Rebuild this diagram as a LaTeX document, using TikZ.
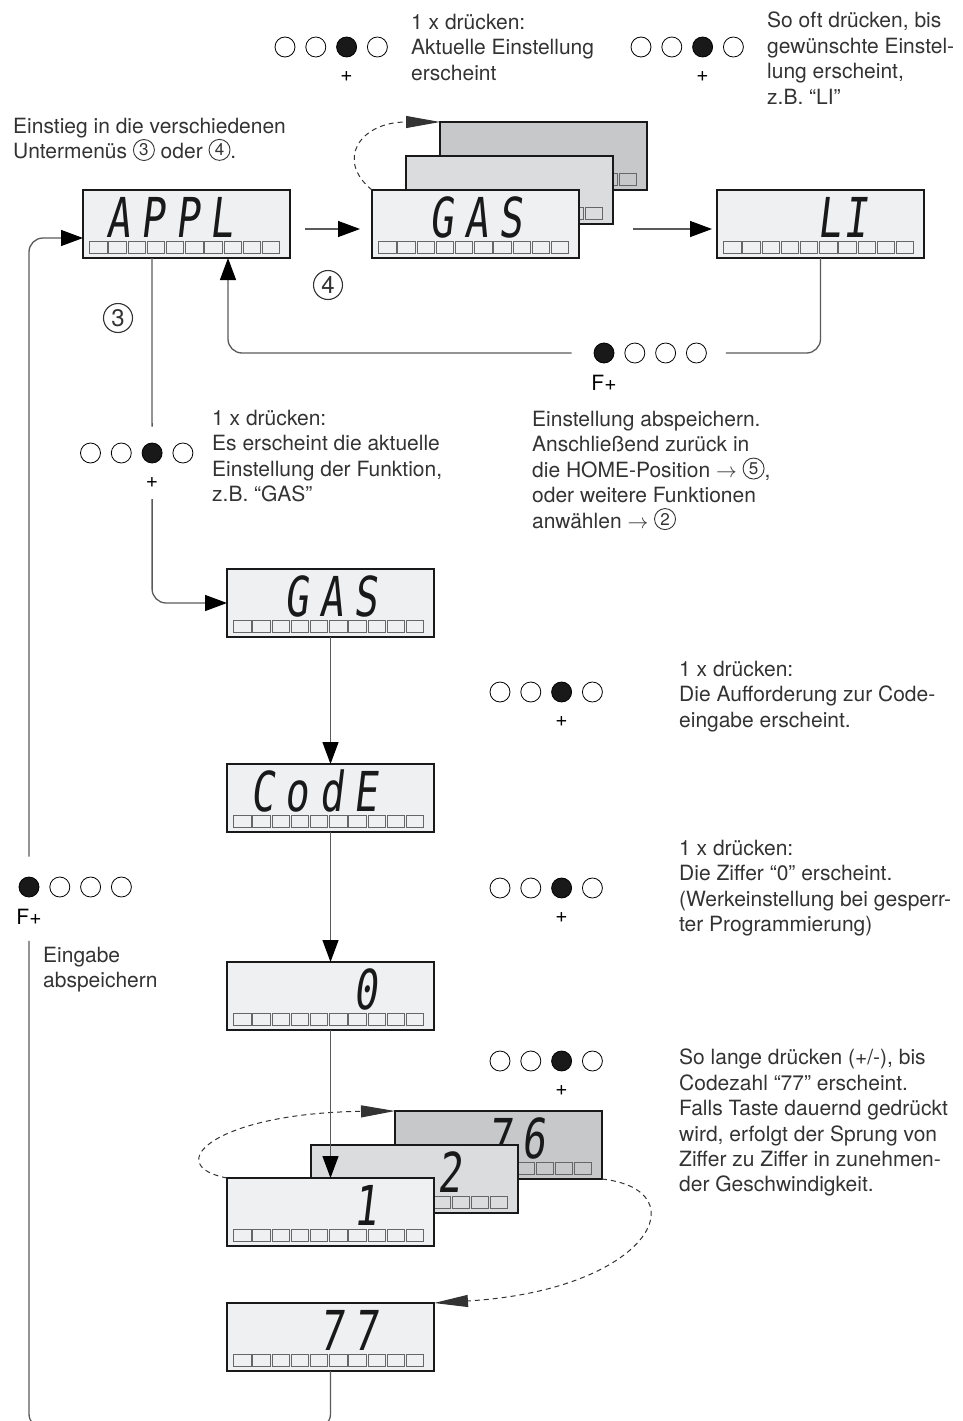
\documentclass[tikz,border=0pt]{standalone}
\usepackage{fontspec}
\setmainfont{TeX Gyre Heros}
\newfontfamily\segfont[FakeSlant=0.12,FakeStretch=0.72]{DejaVu Sans Mono}
\usetikzlibrary{arrows.meta,calc}

\definecolor{lcdfront}{HTML}{EFF0F1}
\definecolor{lcdmid}{HTML}{DBDCDE}
\definecolor{lcdback}{HTML}{C7C8CA}
\definecolor{linegray}{HTML}{5A5A5A}
\definecolor{textgray}{HTML}{333333}

\newcommand{\segk}{\kern10.7pt}
% Ziffer im Kreis, im Text
\newcommand{\ringnum}[1]{\tikz[baseline={([yshift=-3pt]r.base)}]\node[draw=textgray,circle,inner sep=0pt,minimum size=21pt,line width=0.9pt,text=textgray,font=\fontsize{17}{17}\selectfont] (r) {#1};}

% pantalla LCD: nombre, esquina, relleno, texto
\newcommand{\lcd}[4]{%
  \node[lcdbox,fill=#3] (#1) at (#2) {};
  \foreach \i in {0,...,9}
    \draw[lcdkey,fill=#3] ($(#1.south west)+(6.5+19.2*\i,-5)$) rectangle ++(17.5,-12);
  \node[lcdtext] (#1-t) at ($(#1.north west)+(151,47)$) {#4};
}
% cuatro teclas: nombre, primera tecla, tecla pulsada, etiqueta
\newcommand{\keys}[4]{%
  \foreach \k in {1,...,4}{
    \ifnum\k=#3\relax \node[keyon] (#1-\k) at ($(#2)+(30.8*\k-30.8,0)$) {};
    \else \node[keyoff] (#1-\k) at ($(#2)+(30.8*\k-30.8,0)$) {};\fi
  }
  \node[keylabel] (#1-l) at ($(#1-#3)+(0,30)$) {#4};
}

\begin{document}
\begin{tikzpicture}[x=1pt,y=-1pt,
  lcdbox/.style={draw=black!90,line width=2.2pt,minimum width=207pt,minimum height=68pt,inner sep=0pt,outer sep=0pt,anchor=north west},
  lcdkey/.style={draw=black!60,line width=0.8pt},
  lcdtext/.style={anchor=base east,inner sep=0pt,font=\fontsize{55}{55}\segfont,text=black!90},
  keyoff/.style={circle,draw=black,line width=0.8pt,minimum size=20pt,inner sep=0pt},
  keyon/.style={keyoff,fill=black!90},
  keylabel/.style={font=\fontsize{21}{21}\selectfont,inner sep=1pt},
  ring/.style={draw=textgray,circle,inner sep=0pt,minimum size=29pt,line width=1.1pt,text=textgray,font=\fontsize{24}{24}\selectfont},
  flow/.style={draw=linegray,line width=1.3pt},
  flowtip/.style={-{Triangle[length=22pt,width=16pt,color=black]}},
  cycledash/.style={draw=black!80,line width=1pt,dash pattern=on 5pt off 4pt,-{Triangle[length=34pt,width=12pt]}},
  hint/.style={anchor=north west,align=left,inner sep=0pt,text=textgray,font=\fontsize{21}{25.4}\selectfont}]
  \useasboundingbox (0,0) rectangle (962,1421);
  \clip (0,0) rectangle (962,1421);

  % textos
  \node[hint] (t1) at (411,14) {1 x drücken:\\Aktuelle Einstellung\\erscheint};
  \node[hint] (t2) at (767,12) {So oft drücken, bis\\gewünschte Einstel-\\lung erscheint,\\z.B. “LI”};
  \node[hint] (t3) at (13,118) {Einstieg in die verschiedenen\\Untermenüs \ringnum{3} oder \ringnum{4}.};
  \node[hint] (t4) at (212,410) {1 x drücken:\\Es erscheint die aktuelle\\Einstellung der Funktion,\\z.B. “GAS”};
  \node[hint] (t5) at (532,411) {Einstellung abspeichern.\\Anschließend zurück in\\die HOME-Position $\rightarrow$ \ringnum{5},\\oder weitere Funktionen\\anwählen $\rightarrow$ \ringnum{2}};
  \node[hint] (t6) at (679,661) {1 x drücken:\\Die Aufforderung zur Code-\\eingabe erscheint.};
  \node[hint] (t7) at (679,840) {1 x drücken:\\Die Ziffer “0” erscheint.\\(Werkeinstellung bei gesperr-\\ter Programmierung)};
  \node[hint] (t8) at (679,1049) {So lange drücken (+/-), bis\\Codezahl “77” erscheint.\\Falls Taste dauernd gedrückt\\wird, erfolgt der Sprung von\\Ziffer zu Ziffer in zunehmen-\\der Geschwindigkeit.};
  \node[hint] (t9) at (43,947) {Eingabe\\abspeichern};
  \node[ring] (c4) at (328,285) {4};
  \node[ring] (c3) at (118,318) {3};

  % teclas
  \keys{k1}{285,47}{3}{+}
  \keys{k2}{641,47}{3}{+}
  \keys{k3}{90.5,453}{3}{+}
  \keys{k4}{604,353}{1}{F+}
  \keys{k5}{500,692}{3}{+}
  \keys{k6}{500,888}{3}{+}
  \keys{k7}{500,1061}{3}{+}
  \keys{k8}{29,887}{1}{F+}

  % pantallas
  \lcd{gasback}{440,122}{lcdback}{}
  \lcd{gasmid}{406,156}{lcdmid}{}
  \lcd{gasfront}{372,190}{lcdfront}{G\segk A\segk S}
  \lcd{appl}{83,190}{lcdfront}{A\segk P\segk P\segk L}
  \lcd{li}{717,190}{lcdfront}{L\kern3pt I}
  \lcd{selgas}{227,569}{lcdfront}{G\segk A\segk S}
  \lcd{code}{227,764}{lcdfront}{C\segk o\segk d\segk E}
  \lcd{zero}{227,962}{lcdfront}{0}
  \lcd{sevsix}{395,1111}{lcdback}{7\segk 6}
  \lcd{two}{311,1145}{lcdmid}{2}
  \lcd{one}{227,1178}{lcdfront}{1}
  \lcd{sevsev}{227,1303}{lcdfront}{7\segk 7}

  \coordinate (applout) at ($(appl.south west)+(69,0)$);
  \coordinate (applin) at ($(appl.south west)+(145,0)$);

  % ciclos
  \draw[cycledash] (gasfront.north west) .. controls (335,160) and (360,122) .. (gasback.north west);
  \draw[cycledash] (one.north west) .. controls (160,1165) and (215,1113) .. (sevsix.north west);
  \draw[cycledash] (sevsix.south east) .. controls (700,1190) and (650,1290) .. (sevsev.north east);

  % conexiones
  \draw[flow,flowtip] ([xshift=15pt,yshift=-5pt]appl.east) -- ([xshift=-12pt,yshift=-5pt]gasfront.west);
  \draw[flow,flowtip] ([xshift=54pt,yshift=-5pt]gasfront.east) -- ([xshift=-5pt,yshift=-5pt]li.west);
  \draw[flow,rounded corners=14] (li.south) |- ([xshift=19pt]k4-4.east);
  \draw[flow,flowtip,rounded corners=14] ([xshift=-22pt]k4-1.west) -| (applin);
  \draw[flow] (applout) -- ([yshift=16pt]k3-3.north);
  \draw[flow,flowtip,rounded corners=14] ([yshift=-10pt]k3-l.south) |- (selgas.west);
  \draw[flow,flowtip] (selgas.south) -- (code.north);
  \draw[flow,flowtip] (code.south) -- (zero.north);
  \draw[flow,flowtip] (zero.south) -- (one.north);
  \draw[flow,rounded corners=14] (sevsev.south) -- ++(0,57) -| ([yshift=-15pt]k8-l.south);
  \draw[flow,flowtip,rounded corners=14] ([yshift=20pt]k8-1.north) |- ([yshift=-14pt]appl.west);
\end{tikzpicture}
\end{document}
